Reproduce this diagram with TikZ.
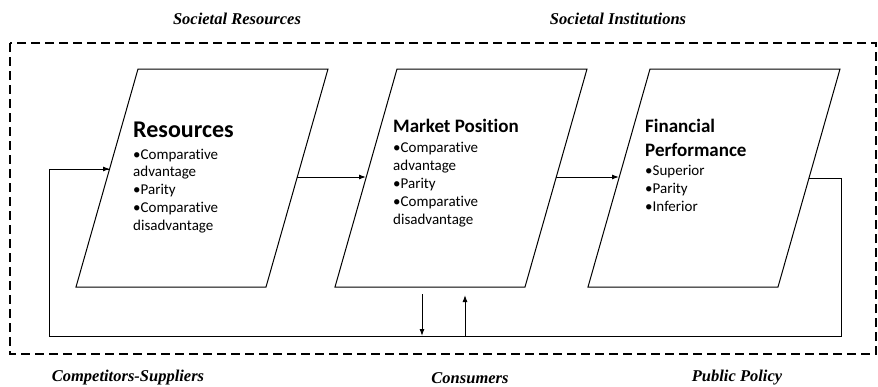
\documentclass[tikz,border=0pt]{standalone}
\usepackage{fontspec}
\setmainfont{Liberation Serif}
\newfontfamily\labelfont{Liberation Serif}
\newfontfamily\boxfont[Ligatures=NoCommon]{Carlito}
\usetikzlibrary{arrows.meta}
\begin{document}
\begin{tikzpicture}[x=1pt,y=-1pt,
  frame/.style={line width=1.8pt, dash pattern=on 9pt off 5pt},
  panel/.style={line width=1pt, line join=miter},
  flow/.style={line width=1pt, -{Latex[length=7pt,width=5pt]}},
  wire/.style={line width=1pt},
  envlabel/.style={font=\labelfont\fontsize{16.5}{18}\selectfont\bfseries\itshape, inner sep=0pt},
  head/.style={font=\boxfont\fontsize{19}{22}\selectfont\bfseries, inner sep=0pt, anchor=base west},
  bighead/.style={font=\boxfont\fontsize{24}{28}\selectfont\bfseries, inner sep=0pt, anchor=base west},
  item/.style={font=\boxfont\fontsize{15}{18}\selectfont, inner sep=0pt, anchor=base west}]
\useasboundingbox (0,0) rectangle (878,386);

% environment frame
\draw[frame] (10,43) rectangle (876,354);

% outer labels
\node[envlabel] (socres) at (237,19) {Societal Resources};
\node[envlabel] (socinst) at (618,19) {Societal Institutions};
\node[envlabel] (comp) at (128,378) {Competitors-Suppliers};
\node[envlabel] (cons) at (470,378) {Consumers};
\node[envlabel] (pol) at (737,378) {Public Policy};

% the three parallelogram panels
\draw[panel] (138,69) -- (328,69) -- (266,287) -- (76,287) -- cycle;
\draw[panel] (397,69) -- (587,69) -- (525,287) -- (335,287) -- cycle;
\draw[panel] (650,69) -- (840,69) -- (778,287) -- (588,287) -- cycle;

% connector end points on the panel edges
\coordinate (p1in)   at (110,169);
\coordinate (p1out)  at (297,177);
\coordinate (p2in)   at (366,177);
\coordinate (p2out)  at (556,177);
\coordinate (p3in)   at (619,177);
\coordinate (p3out)  at (809,178);
\coordinate (p2down) at (422,294);
\coordinate (p2up)   at (465,295);
\coordinate (busL)   at (49,336);
\coordinate (busR)   at (841,336);
\coordinate (bus2a)  at (422,336);
\coordinate (bus2b)  at (465,336);

% panel texts
\node[bighead] (r0) at (133,137) {Resources};
\foreach \t [count=\i] in {•Comparative, advantage, •Parity, •Comparative, disadvantage}
  \node[item] (r\i) at (133,{159+17.8*(\i-1)}) {\t};

\node[head] (m0) at (393,132.5) {Market Position};
\foreach \t [count=\i] in {•Comparative, advantage, •Parity, •Comparative, disadvantage}
  \node[item] (m\i) at (393,{152+18*(\i-1)}) {\t};

\node[head] (f0) at (645,132) {Financial};
\node[head] (f00) at (645,156) {Performance};
\foreach \t [count=\i] in {•Superior, •Parity, •Inferior}
  \node[item] (f\i) at (645,{175+18*(\i-1)}) {\t};

% flows between panels
\draw[flow] (p1out) -- (p2in);
\draw[flow] (p2out) -- (p3in);

% feedback loop along the bottom
\draw[wire] (p3out) -| (busR) -- (busL) |- (p1in);
\draw[flow] (busL |- p1in) -- (p1in);
\draw[flow] (p2down) -- (bus2a);
\draw[flow] (bus2b) -- (p2up);
\end{tikzpicture}
\end{document}
